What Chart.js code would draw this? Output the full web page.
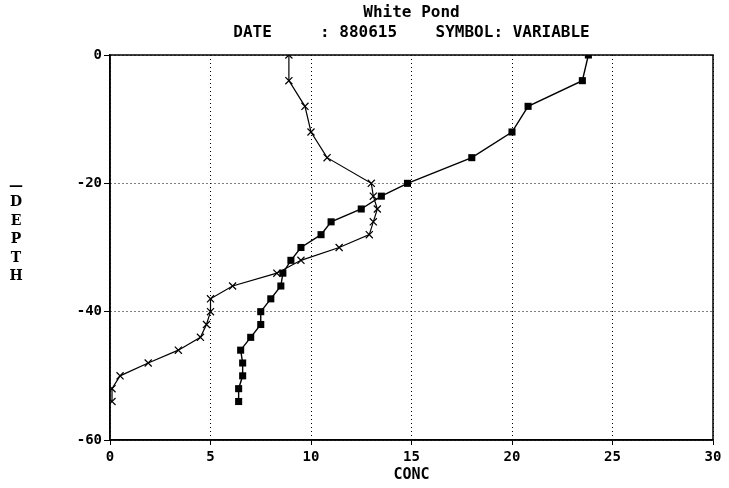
<!DOCTYPE html>
<html>
<head>
<meta charset="utf-8">
<script src="https://cdn.jsdelivr.net/npm/chart.js@4"></script>
<style>
  html, body { margin: 0; padding: 0; background: #fff; }
  #wrap { width: 729px; height: 488px; }
</style>
</head>
<body>
<div id="wrap"><canvas id="pondChart"></canvas></div>
<script>
// Данные профиля (глубина / концентрация)
const depths = [0, -4, -8, -12, -16, -20, -22, -24, -26, -28, -30, -32, -34, -36, -38, -40, -42, -44, -46, -48, -50, -52, -54];
const squareConc = [23.8, 23.5, 20.8, 20.0, 18.0, 14.8, 13.5, 12.5, 11.0, 10.5, 9.5, 9.0, 8.6, 8.5, 8.0, 7.5, 7.5, 7.0, 6.5, 6.6, 6.6, 6.4, 6.4];
const crossConc = [8.9, 8.9, 9.7, 10.0, 10.8, 13.0, 13.1, 13.3, 13.1, 12.9, 11.4, 9.5, 8.3, 6.1, 5.0, 5.0, 4.8, 4.5, 3.4, 1.9, 0.5, 0.1, 0.1];
const xTicks = [0, 5, 10, 15, 20, 25, 30];
const yTicks = [0, -20, -40, -60];

const titleLines = ['White Pond', 'DATE     : 880615    SYMBOL: VARIABLE'];
const yLabel = ['\u2014', 'D', 'E', 'P', 'T', 'H'];

const monoFont = "'DejaVu Sans Mono', monospace";

// Рамка, заголовок и вертикальная подпись оси
const framePlugin = {
    id: 'frame',
    afterDraw(chart) {
        const { ctx, chartArea } = chart;
        ctx.save();
        ctx.strokeStyle = '#000';
        ctx.lineWidth = 1.5;
        ctx.strokeRect(chartArea.left, chartArea.top, chartArea.right - chartArea.left, chartArea.bottom - chartArea.top);

        ctx.fillStyle = '#000';
        ctx.textAlign = 'center';
        ctx.textBaseline = 'middle';
        ctx.font = 'bold 16px ' + monoFont;
        const cx = (chartArea.left + chartArea.right) / 2;
        ctx.fillText(titleLines[0], cx, 13);
        ctx.fillText(titleLines[1], cx, 33);

        ctx.font = "bold 14px 'DejaVu Serif', serif";
        yLabel.forEach((ch, i) => {
            ctx.fillText(ch, 16, (i === 0 ? 186 : 184) + i * 18.5);
        });
        ctx.restore();
    }
};

const pts = arr => arr.map((v, i) => ({ x: v, y: depths[i] }));

new Chart(document.getElementById('pondChart').getContext('2d'), {
    type: 'scatter',
    data: {
        datasets: [
            {
                label: 'cross',
                data: pts(crossConc),
                showLine: true,
                borderColor: '#000',
                borderWidth: 1.2,
                pointStyle: 'crossRot',
                pointRadius: 5,
                pointBorderWidth: 1.2,
                pointBorderColor: '#000',
                pointBackgroundColor: '#000'
            },
            {
                label: 'square',
                data: pts(squareConc),
                showLine: true,
                borderColor: '#000',
                borderWidth: 1.4,
                pointStyle: 'rect',
                pointRadius: 5,
                pointBorderWidth: 0,
                pointBackgroundColor: '#000'
            }
        ]
    },
    options: {
        responsive: true,
        maintainAspectRatio: false,
        animation: false,
        layout: { padding: { top: 55, right: 16, left: 0, bottom: 0 } },
        plugins: {
            legend: { display: false },
            tooltip: { enabled: false }
        },
        scales: {
            x: {
                type: 'linear',
                min: 0,
                max: 30,
                afterBuildTicks: scale => { scale.ticks = xTicks.map(v => ({ value: v })); },
                afterFit: scale => { scale.height = 48; },
                ticks: {
                    color: '#000',
                    padding: 4,
                    font: { family: monoFont, weight: 'bold', size: 14 }
                },
                grid: {
                    color: '#000',
                    lineWidth: 1,
                    tickLength: 5,
                    tickColor: '#000',
                    tickBorderDash: []
                },
                border: { display: true, color: '#000', width: 1.5, dash: [1, 3] },
                title: {
                    display: true,
                    text: 'CONC',
                    color: '#000',
                    padding: { top: 0, bottom: 4 },
                    font: { family: monoFont, weight: 'bold', size: 15 }
                }
            },
            y: {
                type: 'linear',
                min: -60,
                max: 0,
                afterBuildTicks: scale => { scale.ticks = yTicks.map(v => ({ value: v })); },
                afterFit: scale => { scale.width = 110; },
                ticks: {
                    color: '#000',
                    padding: 2,
                    font: { family: monoFont, weight: 'bold', size: 14 }
                },
                grid: {
                    color: '#000',
                    lineWidth: 1,
                    tickLength: 6,
                    tickColor: '#000',
                    tickBorderDash: []
                },
                border: { display: true, color: '#000', width: 1.5, dash: [1, 3] }
            }
        }
    },
    plugins: [framePlugin]
});
</script>
</body>
</html>
